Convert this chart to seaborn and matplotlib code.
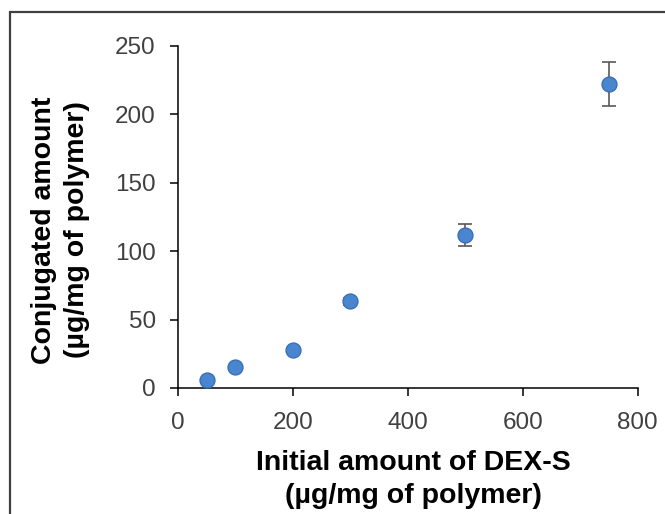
import matplotlib
matplotlib.use("Agg")
import matplotlib.pyplot as plt
import matplotlib.patches as mpatches
import seaborn as sns
import pandas as pd

initial_amount = [50, 100, 200, 300, 500, 750]
conjugated = [5.5, 15, 28, 63.5, 112, 222]
error = [1.0, 1.0, 1.5, 2.5, 8, 16]

df = pd.DataFrame({"initial": initial_amount, "conj": conjugated, "err": error})

sns.set_theme(style="ticks")
plt.rcParams['font.family'] = ['Liberation Sans', 'DejaVu Sans']

fig = plt.figure(figsize=(6.65, 5.14), dpi=100)
ax = fig.add_axes([178/665, 1-388/514, (637.7-178)/665, (388-46)/514])

ax.errorbar(df["initial"], df["conj"], yerr=df["err"], fmt="none",
            ecolor="#595959", elinewidth=1.2, capsize=5, capthick=1.2, zorder=2)
sns.scatterplot(data=df, x="initial", y="conj", ax=ax, s=115,
                color="#4a86d0", edgecolor="#3a6fb5", linewidth=1.0, zorder=3)

ax.set_xlim(0, 800)
ax.set_ylim(0, 250)
ax.set_xticks([0, 200, 400, 600, 800])
ax.set_yticks([0, 50, 100, 150, 200, 250])
ax.tick_params(axis="both", labelsize=17.5, colors="black", labelcolor="#404040",
               length=6, width=1.1, direction="out")
ax.tick_params(axis="x", pad=11.5)
ax.tick_params(axis="y", pad=10)
for s in ["top", "right"]:
    ax.spines[s].set_visible(False)
for s in ["left", "bottom"]:
    ax.spines[s].set_color("black")
    ax.spines[s].set_linewidth(1.1)

ax.set_xlabel("Initial amount of DEX-S\n(µg/mg of polymer)", fontsize=20.5,
              fontweight="bold", color="black", linespacing=1.35)
ax.set_ylabel("Conjugated amount\n(µg/mg of polymer)", fontsize=20.5,
              fontweight="bold", color="black", linespacing=1.35)
ax.xaxis.set_label_coords(0.513, -0.181)
ax.yaxis.set_label_coords(-0.191, 0.462)

border = mpatches.Rectangle((10/665, -0.2), 2.0, 1.2 - 12.5/514, transform=fig.transFigure,
                            fill=False, edgecolor="#404040", linewidth=1.6, zorder=10)
fig.patches.append(border)

fig.savefig("out.png", dpi=100)
